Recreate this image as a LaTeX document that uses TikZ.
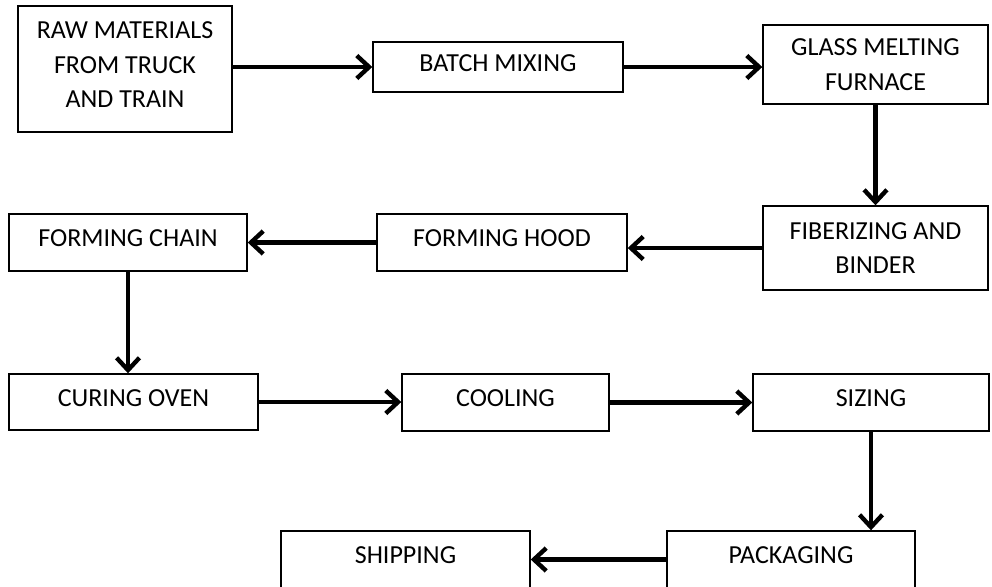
\documentclass[tikz,border=0pt]{standalone}
\usepackage{fontspec}
\setmainfont{Carlito}
\usepackage{tikz}
\usetikzlibrary{calc}
\usetikzlibrary{arrows.meta}

\begin{document}
\begin{tikzpicture} [x=0.02cm, y=-0.02cm,
  stage/.style={draw, line width=.8pt, rectangle, align=center, inner sep=0pt,
    font=\fontsize{14.8}{19.8}\selectfont},
  lift/.style={text depth=5pt},
  dims/.style 2 args={minimum width=#1*0.02cm, minimum height=#2*0.02cm},
  flow/.style={line width=2.5pt, -{Straight Barb[length=7pt, width=13pt]}}]
\useasboundingbox (0,0) rectangle (992,586);

\node[stage, lift, dims={214}{126}] (raw) at (125,69) {RAW MATERIALS\\FROM TRUCK\\AND TRAIN};
\node[stage, lift, dims={250}{50}] (batch) at (498,67) {BATCH MIXING};
\node[stage, dims={225}{79}] (melt) at (875.5,64.5) {GLASS MELTING\\FURNACE};
\node[stage, dims={225}{84}] (fiber) at (875.5,248) {FIBERIZING AND\\BINDER};
\node[stage, lift, dims={250}{57}] (hood) at (502,242.5) {FORMING HOOD};
\node[stage, lift, dims={238}{57}] (chain) at (128,242.5) {FORMING CHAIN};
\node[stage, lift, dims={249}{56}] (oven) at (133.5,402) {CURING OVEN};
\node[stage, lift, dims={207}{57}] (cool) at (505.5,402.5) {COOLING};
\node[stage, lift, dims={236}{57}] (size) at (871,402.5) {SIZING};
\node[stage, lift, dims={248}{57}] (pack) at (791,559.5) {PACKAGING};
\node[stage, lift, dims={249}{57}] (ship) at (405.5,559.5) {SHIPPING};

\draw[flow] (raw.east |- batch) -- (batch.west);
\draw[flow] (batch.east) -- (batch.east -| melt.west);
\draw[flow] (melt.south) -- (fiber.north);
\draw[flow] (fiber.west) -- (fiber.west -| hood.east);
\draw[flow] (hood.west) -- (hood.west -| chain.east);
\draw[flow] (chain.south) -- (chain.south |- oven.north);
\draw[flow] (oven.east) -- (oven.east -| cool.west);
\draw[flow] (cool.east) -- (size.west);
\draw[flow] (size.south) -- (size.south |- pack.north);
\draw[flow] (pack.west) -- (ship.east);

\end{tikzpicture}
\end{document}
